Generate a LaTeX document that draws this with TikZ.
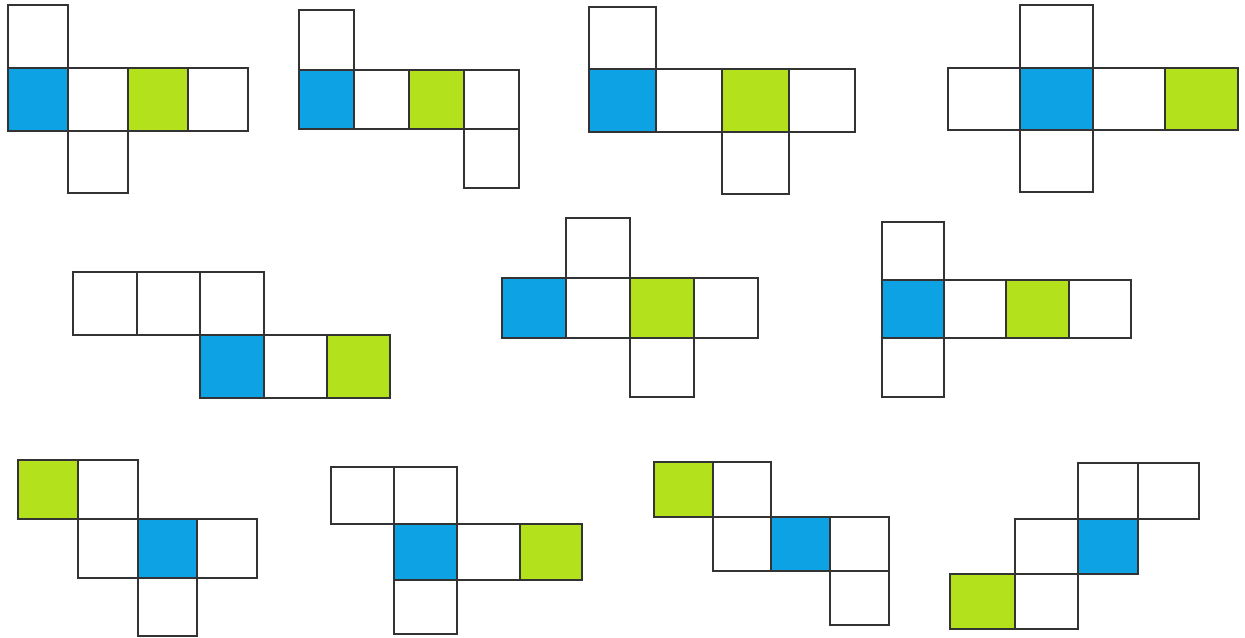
\documentclass[tikz,border=0pt]{standalone}
\usetikzlibrary{backgrounds}

\definecolor{caraazul}{HTML}{0CA2E4}
\definecolor{caraverde}{HTML}{B3E21C}

\begin{document}
\begin{tikzpicture}[
    x=0.02cm, y=-0.02cm,
    % ====================
    % ESTILOS DE CARAS
    % ====================
    cara/.style={
        draw=black!80, line width=1.1pt, fill=white, line join=miter
    },
    azul/.style={
        cara, fill=caraazul
    },
    verde/.style={
        cara, fill=caraverde
    }
]

% ====================
% FONDO
% ====================
\fill[white] (0, 0) rectangle (1245, 638);
\useasboundingbox (0, 0) rectangle (1245, 638);

% ====================
% FILA 1
% ====================

% Red 1
\draw[cara] (8, 5) rectangle (68, 68);
\draw[azul] (8, 68) rectangle (68, 131);
\draw[cara] (68, 68) rectangle (128, 131);
\draw[verde] (128, 68) rectangle (188, 131);
\draw[cara] (188, 68) rectangle (248, 131);
\draw[cara] (68, 131) rectangle (128, 193);

% Red 2
\draw[cara] (299, 10) rectangle (354, 70);
\draw[azul] (299, 70) rectangle (354, 129);
\draw[cara] (354, 70) rectangle (409, 129);
\draw[verde] (409, 70) rectangle (464, 129);
\draw[cara] (464, 70) rectangle (519, 129);
\draw[cara] (464, 129) rectangle (519, 188);

% Red 3
\draw[cara] (589, 7) rectangle (656, 69);
\draw[azul] (589, 69) rectangle (656, 132);
\draw[cara] (656, 69) rectangle (722, 132);
\draw[verde] (722, 69) rectangle (789, 132);
\draw[cara] (789, 69) rectangle (855, 132);
\draw[cara] (722, 132) rectangle (789, 194);

% Red 4
\draw[cara] (1020, 5) rectangle (1093, 68);
\draw[cara] (948, 68) rectangle (1020, 130);
\draw[azul] (1020, 68) rectangle (1093, 130);
\draw[cara] (1093, 68) rectangle (1165, 130);
\draw[verde] (1165, 68) rectangle (1238, 130);
\draw[cara] (1020, 130) rectangle (1093, 192);

% ====================
% FILA 2
% ====================

% Red 5
\draw[cara] (73, 272) rectangle (137, 335);
\draw[cara] (137, 272) rectangle (200, 335);
\draw[cara] (200, 272) rectangle (264, 335);
\draw[azul] (200, 335) rectangle (264, 398);
\draw[cara] (264, 335) rectangle (327, 398);
\draw[verde] (327, 335) rectangle (390, 398);

% Red 6
\draw[cara] (566, 218) rectangle (630, 278);
\draw[azul] (502, 278) rectangle (566, 338);
\draw[cara] (566, 278) rectangle (630, 338);
\draw[verde] (630, 278) rectangle (694, 338);
\draw[cara] (694, 278) rectangle (758, 338);
\draw[cara] (630, 338) rectangle (694, 397);

% Red 7
\draw[cara] (882, 222) rectangle (944, 280);
\draw[azul] (882, 280) rectangle (944, 338);
\draw[cara] (944, 280) rectangle (1006, 338);
\draw[verde] (1006, 280) rectangle (1069, 338);
\draw[cara] (1069, 280) rectangle (1131, 338);
\draw[cara] (882, 338) rectangle (944, 397);

% ====================
% FILA 3
% ====================

% Red 8
\draw[verde] (18, 460) rectangle (78, 519);
\draw[cara] (78, 460) rectangle (138, 519);
\draw[cara] (78, 519) rectangle (138, 578);
\draw[azul] (138, 519) rectangle (197, 578);
\draw[cara] (197, 519) rectangle (257, 578);
\draw[cara] (138, 578) rectangle (197, 636);

% Red 9
\draw[cara] (331, 467) rectangle (394, 524);
\draw[cara] (394, 467) rectangle (457, 524);
\draw[azul] (394, 524) rectangle (457, 580);
\draw[cara] (457, 524) rectangle (520, 580);
\draw[verde] (520, 524) rectangle (582, 580);
\draw[cara] (394, 580) rectangle (457, 634);

% Red 10
\draw[verde] (654, 462) rectangle (713, 517);
\draw[cara] (713, 462) rectangle (771, 517);
\draw[cara] (713, 517) rectangle (771, 571);
\draw[azul] (771, 517) rectangle (830, 571);
\draw[cara] (830, 517) rectangle (889, 571);
\draw[cara] (830, 571) rectangle (889, 625);

% Red 11
\draw[cara] (1078, 463) rectangle (1138, 519);
\draw[cara] (1138, 463) rectangle (1199, 519);
\draw[cara] (1015, 519) rectangle (1078, 574);
\draw[azul] (1078, 519) rectangle (1138, 574);
\draw[verde] (950, 574) rectangle (1015, 629);
\draw[cara] (1015, 574) rectangle (1078, 629);

\end{tikzpicture}
\end{document}
